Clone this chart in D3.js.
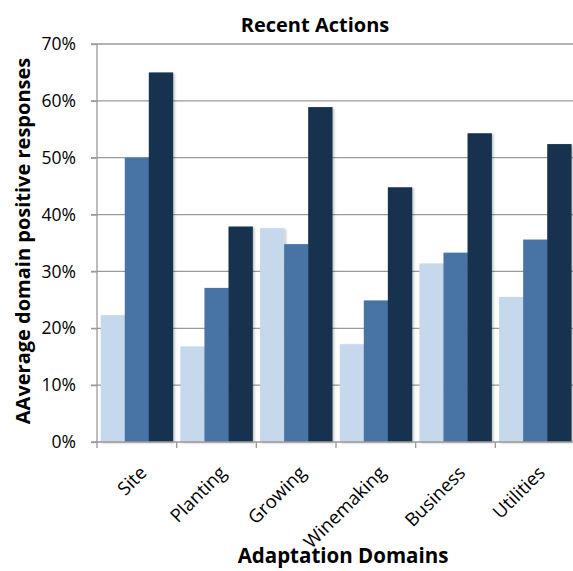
<!DOCTYPE html>
<html>
<head>
<meta charset="utf-8">
<script src="https://cdn.jsdelivr.net/npm/d3@7"></script>
<style>
  html, body { margin: 0; padding: 0; background: #fff; }
  svg { display: block; }
  text { font-family: "Open Sans", Lato, "Liberation Sans", sans-serif; fill: #000; }
</style>
</head>
<body>
<svg id="chart" width="573" height="571"></svg>
<script>
const categories = ["Site", "Planting", "Growing", "Winemaking", "Business", "Utilities"];
const seriesNames = ["s1", "s2", "s3"];
const series1 = [0.223, 0.168, 0.376, 0.172, 0.314, 0.255];
const series2 = [0.500, 0.271, 0.348, 0.249, 0.333, 0.356];
const series3 = [0.650, 0.379, 0.589, 0.448, 0.543, 0.524];
const yTicks = [0, 0.1, 0.2, 0.3, 0.4, 0.5, 0.6, 0.7];
const colors = ["#c5d8ec", "#4673a5", "#16304f"];

const allSeries = [series1, series2, series3];
const svg = d3.select("#chart");
const x0 = 97, x1 = 575, yTop = 44, yBot = 442;
const FONT = "'Open Sans', Lato, sans-serif";

const x = d3.scaleBand().domain(categories).range([x0, x1]).paddingInner(0.095).paddingOuter(0.047);
const xs = d3.scaleBand().domain(seriesNames).range([0, x.bandwidth()]);
const y = d3.scaleLinear().domain([0, 0.7]).range([yBot, yTop]);

const defs = svg.append("defs");
const f = defs.append("filter").attr("id", "shadow").attr("x", "-20%").attr("y", "-5%").attr("width", "150%").attr("height", "115%");
f.append("feDropShadow").attr("dx", 1.5).attr("dy", 1).attr("stdDeviation", 1.2).attr("flood-color", "#000").attr("flood-opacity", 0.25);

// gridlines
svg.append("g").selectAll("line").data(yTicks.filter(d => d > 0)).join("line")
  .attr("x1", x0 - 6).attr("x2", x1)
  .attr("y1", d => y(d)).attr("y2", d => y(d))
  .attr("stroke", "#9a9a9a").attr("stroke-width", 1.3);

// bars
const groups = svg.append("g").selectAll("g").data(categories).join("g")
  .attr("transform", d => `translate(${x(d)},0)`);
groups.selectAll("rect").data((c, i) => seriesNames.map((s, k) => ({ s, k, v: allSeries[k][i] }))).join("rect")
  .attr("x", d => xs(d.s)).attr("width", xs.bandwidth() + 0.3)
  .attr("y", d => y(d.v)).attr("height", d => yBot - y(d.v))
  .attr("fill", d => colors[d.k])
  .attr("filter", "url(#shadow)");

// y axis
const yAxis = d3.axisLeft(y).tickValues(yTicks).tickFormat(d3.format(".0%")).tickSize(6).tickPadding(15);
const ya = svg.append("g").attr("transform", `translate(${x0},0)`).call(yAxis);
ya.select(".domain").attr("stroke", "#9a9a9a").attr("stroke-width", 1.3).attr("d", `M0,${yTop}V${yBot}`);
ya.selectAll(".tick line").attr("stroke", "#9a9a9a").attr("stroke-width", 1.3);
ya.selectAll(".tick text").attr("font-size", 17.5).attr("fill", "#000").style("font-family", FONT);

// x axis
const xa = svg.append("g").attr("transform", `translate(0,${yBot})`);
xa.append("line").attr("x1", x0 - 6).attr("x2", x1).attr("stroke", "#9a9a9a").attr("stroke-width", 1.3);
xa.selectAll(".tk").data(d3.range(categories.length + 1)).join("line").attr("class", "tk")
  .attr("x1", i => x0 + i * (x1 - x0) / categories.length)
  .attr("x2", i => x0 + i * (x1 - x0) / categories.length)
  .attr("y1", 0).attr("y2", 6).attr("stroke", "#9a9a9a").attr("stroke-width", 1.3);
xa.selectAll(".lbl").data(categories).join("text").attr("class", "lbl")
  .attr("transform", d => `translate(${x(d) + x.bandwidth() / 2 + 11},${32}) rotate(-45)`)
  .attr("text-anchor", "end").attr("font-size", 18.5)
  .text(d => d);

// titles
svg.append("text").attr("x", 315).attr("y", 32).attr("text-anchor", "middle")
  .attr("font-size", 20).attr("font-weight", "bold").text("Recent Actions");
svg.append("text").attr("x", 343).attr("y", 563).attr("text-anchor", "middle")
  .attr("font-size", 20.5).attr("font-weight", "bold").text("Adaptation Domains");
svg.append("text").attr("transform", `translate(30,241) rotate(-90)`).attr("text-anchor", "middle")
  .attr("font-size", 20).attr("font-weight", "bold").text("AAverage domain positive responses");
</script>
</body>
</html>
